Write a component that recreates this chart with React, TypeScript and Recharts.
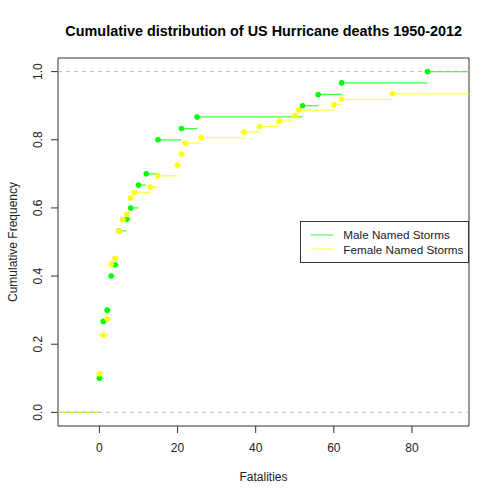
import React from 'react';
import {
  ComposedChart,
  Line,
  Scatter,
  XAxis,
  YAxis,
  ReferenceArea,
  Legend,
} from 'recharts';

// Step positions (fatalities) and cumulative frequencies
const maleFatalities = [0, 1, 2, 3, 4, 5, 7, 8, 10, 12, 15, 21, 25, 52, 56, 62, 84];
const maleCumFreq = [0.1, 0.267, 0.3, 0.4, 0.433, 0.533, 0.567, 0.6, 0.667, 0.7, 0.8, 0.833, 0.867, 0.9, 0.933, 0.967, 1.0];

const femaleFatalities = [0, 1, 2, 3, 4, 5, 6, 7, 8, 9, 13, 15, 20, 21, 22, 26, 37, 41, 46, 50, 51, 60, 62, 75, 117, 159, 200, 256];
const femaleCumFreq = [0.113, 0.226, 0.274, 0.435, 0.452, 0.532, 0.565, 0.581, 0.629, 0.645, 0.661, 0.694, 0.726, 0.758, 0.79, 0.806, 0.823, 0.839, 0.855, 0.871, 0.887, 0.903, 0.919, 0.935, 0.952, 0.968, 0.984, 1.0];

const xTicks = [0, 20, 40, 60, 80];
const yTicks = [0, 0.2, 0.4, 0.6, 0.8, 1.0];
const refLevels = [0, 1];
const X_DOMAIN: [number, number] = [-10.6, 94.6];
const Y_DOMAIN: [number, number] = [-0.04, 1.04];

const seriesNames = ['Male Named Storms', 'Female Named Storms'];
const MALE_COLOR = '#00ff00';
const FEMALE_COLOR = '#ffff00';
const FONT = '"Liberation Sans", Arial, sans-serif';

function stepSegments(xs: number[], ys: number[]) {
  const out: { x: number; y: number | null }[] = [
    { x: X_DOMAIN[0], y: 0 },
    { x: xs[0], y: 0 },
  ];
  for (let i = 0; i < xs.length; i++) {
    const next = i + 1 < xs.length ? xs[i + 1] : Math.max(X_DOMAIN[1], xs[i]);
    out.push({ x: xs[i], y: null });
    out.push({ x: xs[i], y: ys[i] });
    out.push({ x: next, y: ys[i] });
  }
  return out;
}

const points = (xs: number[], ys: number[]) => xs.map((x, i) => ({ x, y: ys[i] }));

const maleSegs = stepSegments(maleFatalities, maleCumFreq);
const femaleSegs = stepSegments(femaleFatalities, femaleCumFreq);
const malePts = points(maleFatalities, maleCumFreq);
const femalePts = points(femaleFatalities, femaleCumFreq);
const refData = (level: number) => [
  { x: X_DOMAIN[0], y: level },
  { x: X_DOMAIN[1], y: level },
];

const dot = (color: string) => (p: any) =>
  p.cx == null || p.cy == null ? <g /> : <circle cx={p.cx} cy={p.cy} r={2.8} fill={color} />;

const XTick = (p: any) => (
  <text x={p.x} y={p.y + 12.7} textAnchor="middle" dominantBaseline="central" fontSize={12} fontFamily={FONT} fill="#222">
    {p.payload.value}
  </text>
);

const YTick = (p: any) => {
  const cx = p.x - 10.7;
  return (
    <text
      x={cx}
      y={p.y}
      transform={`rotate(-90, ${cx}, ${p.y})`}
      textAnchor="middle"
      dominantBaseline="central"
      fontSize={12}
      fontFamily={FONT}
      fill="#222"
    >
      {Number(p.payload.value).toFixed(1)}
    </text>
  );
};

const LegendBox = () => (
  <svg width={170} height={43} style={{ display: 'block' }}>
    <rect x={0.5} y={0.5} width={168} height={41} fill="#fff" stroke="#333" strokeWidth={1} />
    <line x1={10.7} x2={33.3} y1={14} y2={14} stroke={MALE_COLOR} strokeWidth={1} strokeOpacity={0.75} />
    <line x1={10.7} x2={33.3} y1={28} y2={28} stroke={FEMALE_COLOR} strokeWidth={1} strokeOpacity={0.75} />
    <text x={43.3} y={13.8} dominantBaseline="central" fontSize={11.7} fontFamily={FONT} fill="#222">
      {seriesNames[0]}
    </text>
    <text x={43.3} y={28} dominantBaseline="central" fontSize={11.7} fontFamily={FONT} fill="#222">
      {seriesNames[1]}
    </text>
  </svg>
);

export default function App() {
  return (
    <div style={{ position: 'absolute', left: 0, top: 0, width: 499, height: 499, background: '#fff' }}>
      <div
        style={{
          position: 'absolute',
          left: 0,
          width: 527.4,
          top: 22.5,
          textAlign: 'center',
          fontFamily: FONT,
          fontWeight: 'bold',
          fontSize: 14.4,
          lineHeight: '16px',
          color: '#000',
          zIndex: 2,
        }}
      >
        Cumulative distribution of US Hurricane deaths 1950-2012
      </div>
      <ComposedChart width={499} height={499} margin={{ top: 58, right: 30, bottom: 0, left: 0 }}>
        <XAxis
          type="number"
          dataKey="x"
          domain={X_DOMAIN}
          allowDataOverflow
          ticks={xTicks}
          tick={XTick}
          tickSize={7}
          axisLine={false}
          tickLine={{ stroke: '#333' }}
          height={73}
          label={{
            content: (lp: any) => {
              const vb = lp.viewBox;
              return (
                <text
                  x={vb.x + vb.width / 2}
                  y={vb.y + 51}
                  textAnchor="middle"
                  dominantBaseline="central"
                  fontSize={12}
                  fontFamily={FONT}
                  fill="#222"
                >
                  Fatalities
                </text>
              );
            },
          }}
        />
        <YAxis
          type="number"
          dataKey="y"
          domain={Y_DOMAIN}
          allowDataOverflow
          ticks={yTicks}
          tick={YTick}
          tickSize={7}
          axisLine={false}
          tickLine={{ stroke: '#333' }}
          width={58}
          label={{
            content: (lp: any) => {
              const vb = lp.viewBox;
              const cx = 12.5;
              const cy = vb.y + vb.height / 2;
              return (
                <text
                  x={cx}
                  y={cy}
                  transform={`rotate(-90, ${cx}, ${cy})`}
                  textAnchor="middle"
                  dominantBaseline="central"
                  fontSize={12}
                  fontFamily={FONT}
                  fill="#222"
                >
                  Cumulative Frequency
                </text>
              );
            },
          }}
        />
        <Line
          data={maleSegs}
          dataKey="y"
          stroke={MALE_COLOR}
          strokeWidth={1.2}
          strokeOpacity={0.75}
          dot={false}
          activeDot={false}
          connectNulls={false}
          isAnimationActive={false}
          legendType="none"
        />
        <Scatter data={malePts} dataKey="y" shape={dot(MALE_COLOR)} isAnimationActive={false} legendType="none" />
        <Line
          data={femaleSegs}
          dataKey="y"
          stroke={FEMALE_COLOR}
          strokeWidth={1.2}
          strokeOpacity={0.75}
          dot={false}
          activeDot={false}
          connectNulls={false}
          isAnimationActive={false}
          legendType="none"
        />
        <Scatter data={femalePts} dataKey="y" shape={dot(FEMALE_COLOR)} isAnimationActive={false} legendType="none" />
        {refLevels.map((lv) => (
          <Line
            key={lv}
            data={refData(lv)}
            dataKey="y"
            stroke="#bbb"
            strokeWidth={1}
            strokeDasharray="4 4"
            dot={false}
            activeDot={false}
            isAnimationActive={false}
            legendType="none"
          />
        ))}
        <ReferenceArea
          x1={X_DOMAIN[0]}
          x2={X_DOMAIN[1]}
          y1={Y_DOMAIN[0]}
          y2={Y_DOMAIN[1]}
          fill="none"
          fillOpacity={0}
          stroke="#333"
          strokeWidth={1}
          ifOverflow="visible"
        />
        <Legend
          layout="vertical"
          align="center"
          verticalAlign="middle"
          content={LegendBox}
          wrapperStyle={{ left: 300, top: 221, width: 170, height: 43 }}
        />
      </ComposedChart>
    </div>
  );
}
